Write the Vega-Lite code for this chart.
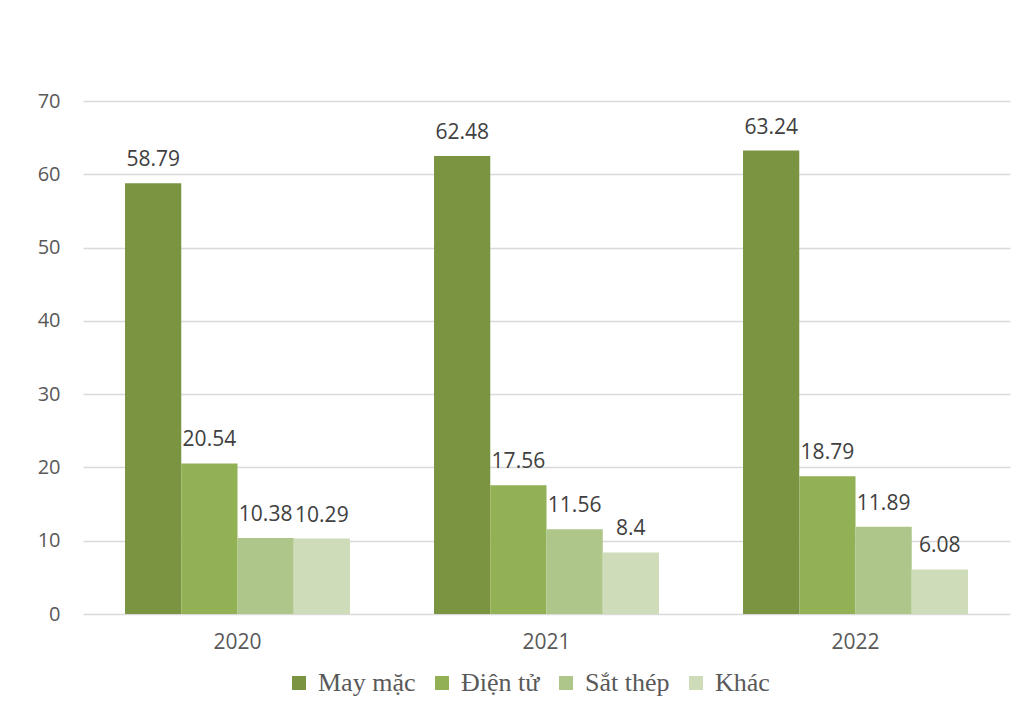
{
  "$schema": "https://vega.github.io/schema/vega-lite/v6.json",
  "width": 927,
  "height": 513,
  "autosize": {"type": "none"},
  "padding": {"left": 83, "top": 101, "right": 15, "bottom": 98},
  "background": "white",
  "config": {"view": {"stroke": null}},
  "data": {
    "values": [
      {"year": "2020", "cat": "May mặc", "v": 58.79},
      {"year": "2020", "cat": "Điện tử", "v": 20.54},
      {"year": "2020", "cat": "Sắt thép", "v": 10.38},
      {"year": "2020", "cat": "Khác", "v": 10.29},
      {"year": "2021", "cat": "May mặc", "v": 62.48},
      {"year": "2021", "cat": "Điện tử", "v": 17.56},
      {"year": "2021", "cat": "Sắt thép", "v": 11.56},
      {"year": "2021", "cat": "Khác", "v": 8.4},
      {"year": "2022", "cat": "May mặc", "v": 63.24},
      {"year": "2022", "cat": "Điện tử", "v": 18.79},
      {"year": "2022", "cat": "Sắt thép", "v": 11.89},
      {"year": "2022", "cat": "Khác", "v": 6.08}
    ]
  },
  "encoding": {
    "x": {
      "field": "year", "type": "nominal",
      "scale": {"paddingInner": 0.272, "paddingOuter": 0.136},
      "axis": {"title": null, "labelAngle": 0, "domain": false, "ticks": false, "labelFontSize": 21, "labelFont": "Open Sans", "labelColor": "#595959", "labelPadding": 17}
    },
    "xOffset": {"field": "cat", "type": "nominal", "sort": ["May mặc", "Điện tử", "Sắt thép", "Khác"], "scale": {"paddingInner": 0, "paddingOuter": 0}},
    "y": {
      "field": "v", "type": "quantitative",
      "scale": {"domain": [0, 70]},
      "axis": {"title": null, "values": [0, 10, 20, 30, 40, 50, 60, 70], "domain": false, "ticks": false, "gridColor": "#d9d9d9", "gridWidth": 1.5, "labelFontSize": 20, "labelFont": "Open Sans", "labelColor": "#595959", "labelPadding": 23}
    }
  },
  "layer": [
    {
      "mark": {"type": "bar"},
      "encoding": {
        "color": {
          "field": "cat", "type": "nominal",
          "sort": ["May mặc", "Điện tử", "Sắt thép", "Khác"],
          "scale": {"domain": ["May mặc", "Điện tử", "Sắt thép", "Khác"], "range": ["#7a9441", "#92b054", "#aec689", "#cfdcb9"]},
          "legend": {
            "title": null, "orient": "none", "direction": "horizontal",
            "legendX": 203, "legendY": 569,
            "symbolType": "square", "symbolSize": 196, "symbolStrokeWidth": 0,
            "labelFont": "Liberation Serif", "labelFontSize": 26, "labelColor": "#595959",
            "columnPadding": 13, "labelOffset": 6
          }
        }
      }
    },
    {
      "mark": {"type": "text", "baseline": "alphabetic", "dy": -17, "fontSize": 21, "font": "Open Sans", "color": "#404040"},
      "encoding": {"text": {"field": "v", "type": "quantitative"}}
    }
  ]
}
